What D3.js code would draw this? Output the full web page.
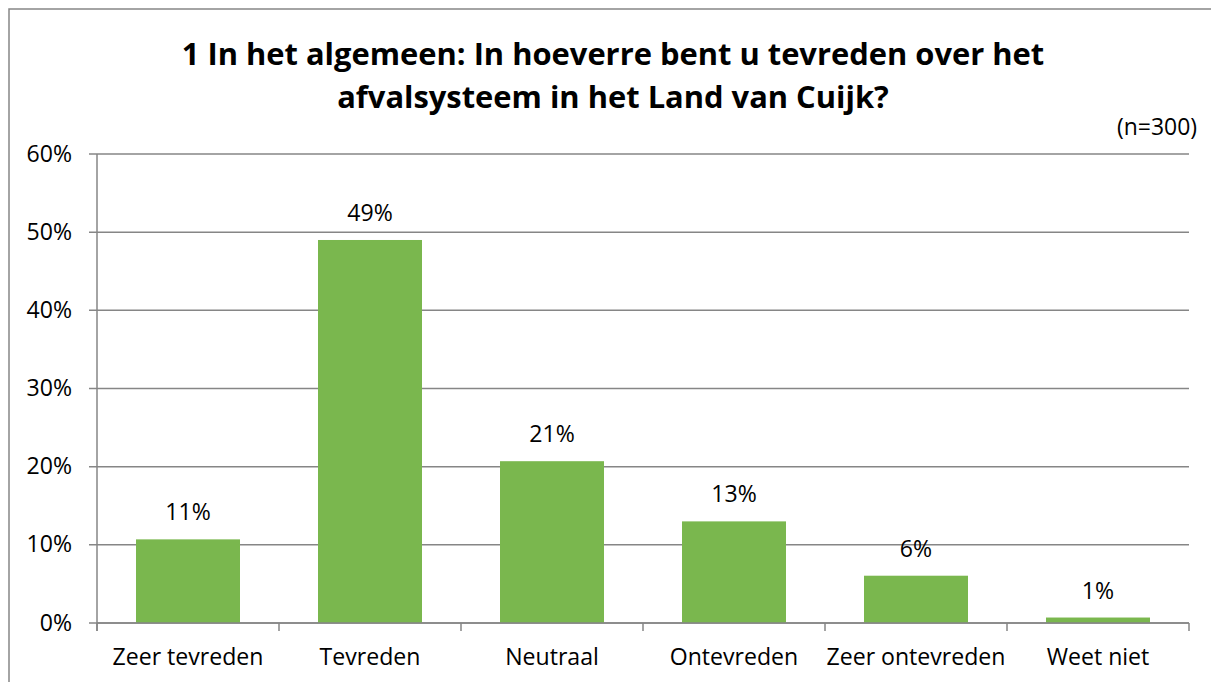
<!DOCTYPE html>
<html><head><meta charset="utf-8">
<script src="https://cdn.jsdelivr.net/npm/d3@7"></script>
<style>
body{margin:0;background:#fff;}
text{font-family:"Open Sans",Lato,sans-serif;fill:#000;}
</style></head>
<body>
<svg id="c" width="1211" height="682"></svg>
<script>
const categories = ["Zeer tevreden","Tevreden","Neutraal","Ontevreden","Zeer ontevreden","Weet niet"];
const values = [10.7, 49.0, 20.7, 13.0, 6.05, 0.7];
const valueLabels = ["11%","49%","21%","13%","6%","1%"];
const yTicks = [0,10,20,30,40,50,60];
const titleLines = ["1 In het algemeen: In hoeverre bent u tevreden over het","afvalsysteem in het Land van Cuijk?"];
const note = "(n=300)";

(function(){
const svg = d3.select("#c");
const W=1211,H=682;
const pL=97, pR=1189, pT=154, pB=623;

// measure helper: font size that gives target width
function fitSize(str, target, bold){
  const t = svg.append("text").attr("font-size",20).attr("font-weight",bold?"bold":"normal").text(str);
  const w = t.node().getComputedTextLength();
  t.remove();
  return 20*target/w;
}
const fsTitle = fitSize(titleLines[0], 863, true);
const fsLab = fitSize("Zeer tevreden", 151, false);
const fsNote = fitSize(note, 80, false);

svg.append("rect").attr("x",9).attr("y",9).attr("width",W+20).attr("height",H+20)
  .attr("fill","#fff").attr("stroke","#868686").attr("stroke-width",1.5);

const x = d3.scaleBand().domain(categories).range([pL,pR]).paddingInner(0.4286).paddingOuter(0.2143);
const y = d3.scaleLinear().domain([0,60]).range([pB,pT]);

svg.append("g").selectAll("line").data(yTicks).join("line")
  .attr("x1",pL-8).attr("x2",pR).attr("y1",d=>y(d)).attr("y2",d=>y(d))
  .attr("stroke","#868686").attr("stroke-width",1.5);

svg.append("line").attr("x1",pL).attr("x2",pL).attr("y1",pT).attr("y2",pB+8)
  .attr("stroke","#868686").attr("stroke-width",1.5);

svg.append("g").selectAll("text").data(yTicks).join("text")
  .attr("x",pL-25).attr("y",d=>y(d)+7.5).attr("text-anchor","end")
  .attr("font-size",fsLab).text(d=>d+"%");

svg.append("g").selectAll("rect").data(values).join("rect")
  .attr("x",(d,i)=>x(categories[i])).attr("width",x.bandwidth())
  .attr("y",d=>y(d)).attr("height",d=>pB-y(d))
  .attr("fill","#7AB74E");

svg.append("line").attr("x1",pL).attr("x2",pR).attr("y1",pB).attr("y2",pB)
  .attr("stroke","#868686").attr("stroke-width",1.5);
const tickXs = d3.range(categories.length+1).map(i=>pL+i*(pR-pL)/categories.length);
svg.append("g").selectAll("line").data(tickXs).join("line")
  .attr("x1",d=>d).attr("x2",d=>d).attr("y1",pB).attr("y2",pB+8)
  .attr("stroke","#868686").attr("stroke-width",1.5);

svg.append("g").selectAll("text").data(categories).join("text")
  .attr("x",d=>x(d)+x.bandwidth()/2).attr("y",665).attr("text-anchor","middle")
  .attr("font-size",fsLab).text(d=>d);

svg.append("g").selectAll("text").data(values).join("text")
  .attr("x",(d,i)=>x(categories[i])+x.bandwidth()/2).attr("y",d=>y(d)-19).attr("text-anchor","middle")
  .attr("font-size",fsLab).text((d,i)=>valueLabels[i]);

svg.append("g").selectAll("text").data(titleLines).join("text")
  .attr("x",613).attr("y",(d,i)=>65+i*43).attr("text-anchor","middle")
  .attr("font-size",fsTitle).attr("font-weight","bold").text(d=>d);

svg.append("text").attr("x",1197).attr("y",135).attr("text-anchor","end").attr("font-size",fsNote).text(note);
})();
</script>
</body></html>
